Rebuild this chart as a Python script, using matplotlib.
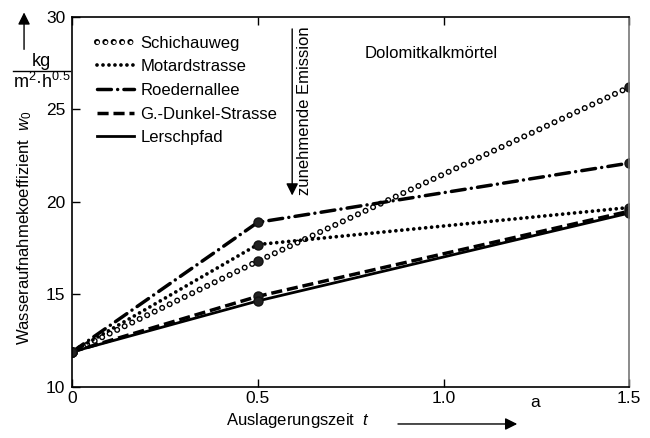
import matplotlib.pyplot as plt
from matplotlib.lines import Line2D

plt.rcParams['font.family'] = ['Liberation Sans', 'DejaVu Sans']
plt.rcParams['mathtext.fontset'] = 'custom'
plt.rcParams['mathtext.it'] = 'Liberation Sans:italic'
plt.rcParams['mathtext.rm'] = 'Liberation Sans'
plt.rcParams['lines.scale_dashes'] = False

# Auslagerungszeit in Jahren
t = [0, 0.5, 1.5]

# Wasseraufnahmekoeffizient je Standort
schichauweg = [11.9, 16.8, 26.2]
motardstrasse = [11.9, 17.7, 19.7]
roedernallee = [11.9, 18.9, 22.1]
dunkel_strasse = [11.9, 14.9, 19.5]
lerschpfad = [11.9, 14.65, 19.4]

names = ['Schichauweg', 'Motardstrasse', 'Roedernallee', 'G.-Dunkel-Strasse', 'Lerschpfad']

fig = plt.figure(figsize=(6.5, 4.38), dpi=100)
ax = fig.add_axes([0.111, 0.1164, 0.857, 0.845])

# Linienstile
ring = (0, (0.01, 6.0))
dots = (0, (0.01, 4.3))
dashdot = (0, (10, 4.5, 0.01, 4.5))
dashed = (0, (8, 3.5))

ring_outer = dict(color='black', lw=4.4, linestyle=ring, dash_capstyle='round')
ring_inner = dict(color='white', lw=2.4, linestyle=ring, dash_capstyle='round')
dot_style = dict(color='black', lw=2.7, linestyle=dots, dash_capstyle='round')
dashdot_style = dict(color='black', lw=2.5, linestyle=dashdot, dash_capstyle='round')
dashed_style = dict(color='black', lw=2.5, linestyle=dashed)
solid_style = dict(color='black', lw=2.0)

# Schichauweg: Kreise als schwarze Punkte mit weißem Kern
ax.plot(t, schichauweg, **ring_outer)
ax.plot(t, schichauweg, **ring_inner)
ax.plot(t, motardstrasse, **dot_style)
ax.plot(t, roedernallee, **dashdot_style)
ax.plot(t, dunkel_strasse, **dashed_style)
ax.plot(t, lerschpfad, **solid_style)

for s in [schichauweg, motardstrasse, roedernallee, dunkel_strasse, lerschpfad]:
    ax.plot(t, s, 'o', color='#222222', ms=6.5, markeredgecolor='#111111')

ax.set_xlim(0, 1.5)
ax.set_ylim(10, 30)
ax.set_xticks([0, 0.5, 1.0, 1.5])
ax.set_xticklabels(['0', '0.5', '1.0', '1.5'])
ax.set_yticks([10, 15, 20, 25, 30])
ax.tick_params(direction='in', length=6, width=1, labelsize=12.5, top=True,
               labeltop=False, right=False)
ax.tick_params(axis='x', pad=3)
ax.tick_params(axis='y', pad=5)
for sp in ax.spines.values():
    sp.set_linewidth(1.2)
ax.spines['right'].set_color('#777777')

ax.set_ylabel('Wasseraufnahmekoeffizient  $w_0$', fontsize=12)
ax.yaxis.set_label_coords(-0.068, 0.43)
ax.set_xlabel('Auslagerungszeit  $t$', fontsize=12)
ax.xaxis.set_label_coords(0.405, -0.064)

# Legende
handles = [
    (Line2D([], [], **ring_outer), Line2D([], [], **ring_inner)),
    Line2D([], [], **dot_style),
    Line2D([], [], **dashdot_style),
    Line2D([], [], **dashed_style),
    Line2D([], [], **solid_style),
]
ax.legend(handles, names, loc='upper left', bbox_to_anchor=(0.018, 0.99),
          frameon=False, fontsize=12, handlelength=2.2, handletextpad=0.4,
          labelspacing=0.52)

ax.text(0.525, 0.9, 'Dolomitkalkmörtel', transform=ax.transAxes, fontsize=12,
        va='center')
ax.text(0.417, 0.975, 'zunehmende Emission', transform=ax.transAxes, fontsize=12,
        rotation=90, va='top', ha='center')
ax.annotate('', xy=(0.395, 0.51), xytext=(0.395, 0.975), xycoords='axes fraction',
            arrowprops=dict(arrowstyle='-|>', color='black', lw=1.0,
                            mutation_scale=18))

# Einheit an der y-Achse
fig.text(0.063, 0.86, 'kg', fontsize=13, ha='center', va='center')
fig.add_artist(Line2D([0.02, 0.108], [0.838, 0.838], color='black', lw=1.0))
fig.text(0.064, 0.813, 'm$^2$·h$^{0.5}$', fontsize=13, ha='center', va='center')
ax.annotate('', xy=(0.037, 0.978), xytext=(0.037, 0.881), xycoords='figure fraction',
            arrowprops=dict(arrowstyle='-|>', color='black', lw=1.0, mutation_scale=18))

# Einheit und Pfeil an der x-Achse
ax.text(0.832, -0.022, 'a', transform=ax.transAxes, fontsize=12.5, ha='center', va='top')
ax.annotate('', xy=(0.8, 0.032), xytext=(0.608, 0.032), xycoords='figure fraction',
            arrowprops=dict(arrowstyle='-|>', color='black', lw=1.0, mutation_scale=18))

fig.savefig('out.png', dpi=100)
